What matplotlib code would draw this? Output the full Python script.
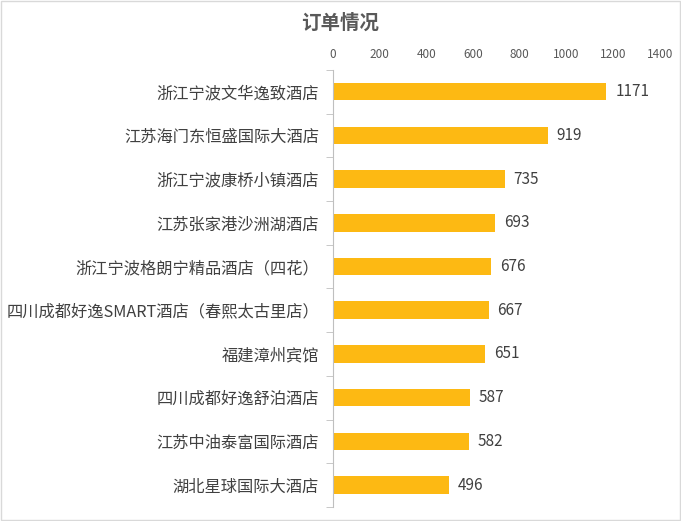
import matplotlib.pyplot as plt
from matplotlib.patches import Rectangle

plt.rcParams['font.family'] = ['Noto Sans CJK SC', 'DejaVu Sans']

hotels = ['浙江宁波文华逸致酒店', '江苏海门东恒盛国际大酒店', '浙江宁波康桥小镇酒店',
          '江苏张家港沙洲湖酒店', '浙江宁波格朗宁精品酒店（四花）',
          '四川成都好逸SMART酒店（春熙太古里店）', '福建漳州宾馆', '四川成都好逸舒泊酒店',
          '江苏中油泰富国际酒店', '湖北星球国际大酒店']
orders = [1171, 919, 735, 693, 676, 667, 651, 587, 582, 496]
xticks = [0, 200, 400, 600, 800, 1000, 1200, 1400]

fig = plt.figure(figsize=(6.81, 5.21), dpi=100)
ax = fig.add_axes([0.489, 0.027, 0.48, 0.839])

y = list(range(len(hotels)))
ax.barh(y, orders, height=0.4, color='#FDB913')
for i, v in zip(y, orders):
    ax.text(v + 38, i, str(v), va='center', ha='left', fontsize=11, color='#404040')

ax.set_xlim(0, 1400)
ax.set_ylim(len(hotels) - 0.5, -0.5)
ax.set_xticks(xticks)
ax.xaxis.tick_top()
ax.tick_params(axis='x', length=0, labelsize=8.5, colors='#595959', pad=6)
ax.set_yticks(y)
ax.set_yticklabels(hotels)
ax.tick_params(axis='y', length=0, labelsize=11.7, colors='#404040', pad=10)
ax.set_yticks([i - 0.5 for i in range(len(hotels) + 1)], minor=True)
ax.tick_params(axis='y', which='minor', length=5, color='#BFBFBF')
for s in ['top', 'right', 'bottom']:
    ax.spines[s].set_visible(False)
ax.spines['left'].set_color('#BFBFBF')

fig.text(0.5, 0.955, '订单情况', ha='center', va='center', fontsize=14,
         fontweight='bold', color='#595959')
fig.patches.append(Rectangle((0.001, 0.002), 0.997, 0.996, transform=fig.transFigure,
                             fill=False, edgecolor='#D9D9D9', linewidth=1))

fig.savefig('out.png', dpi=100)
